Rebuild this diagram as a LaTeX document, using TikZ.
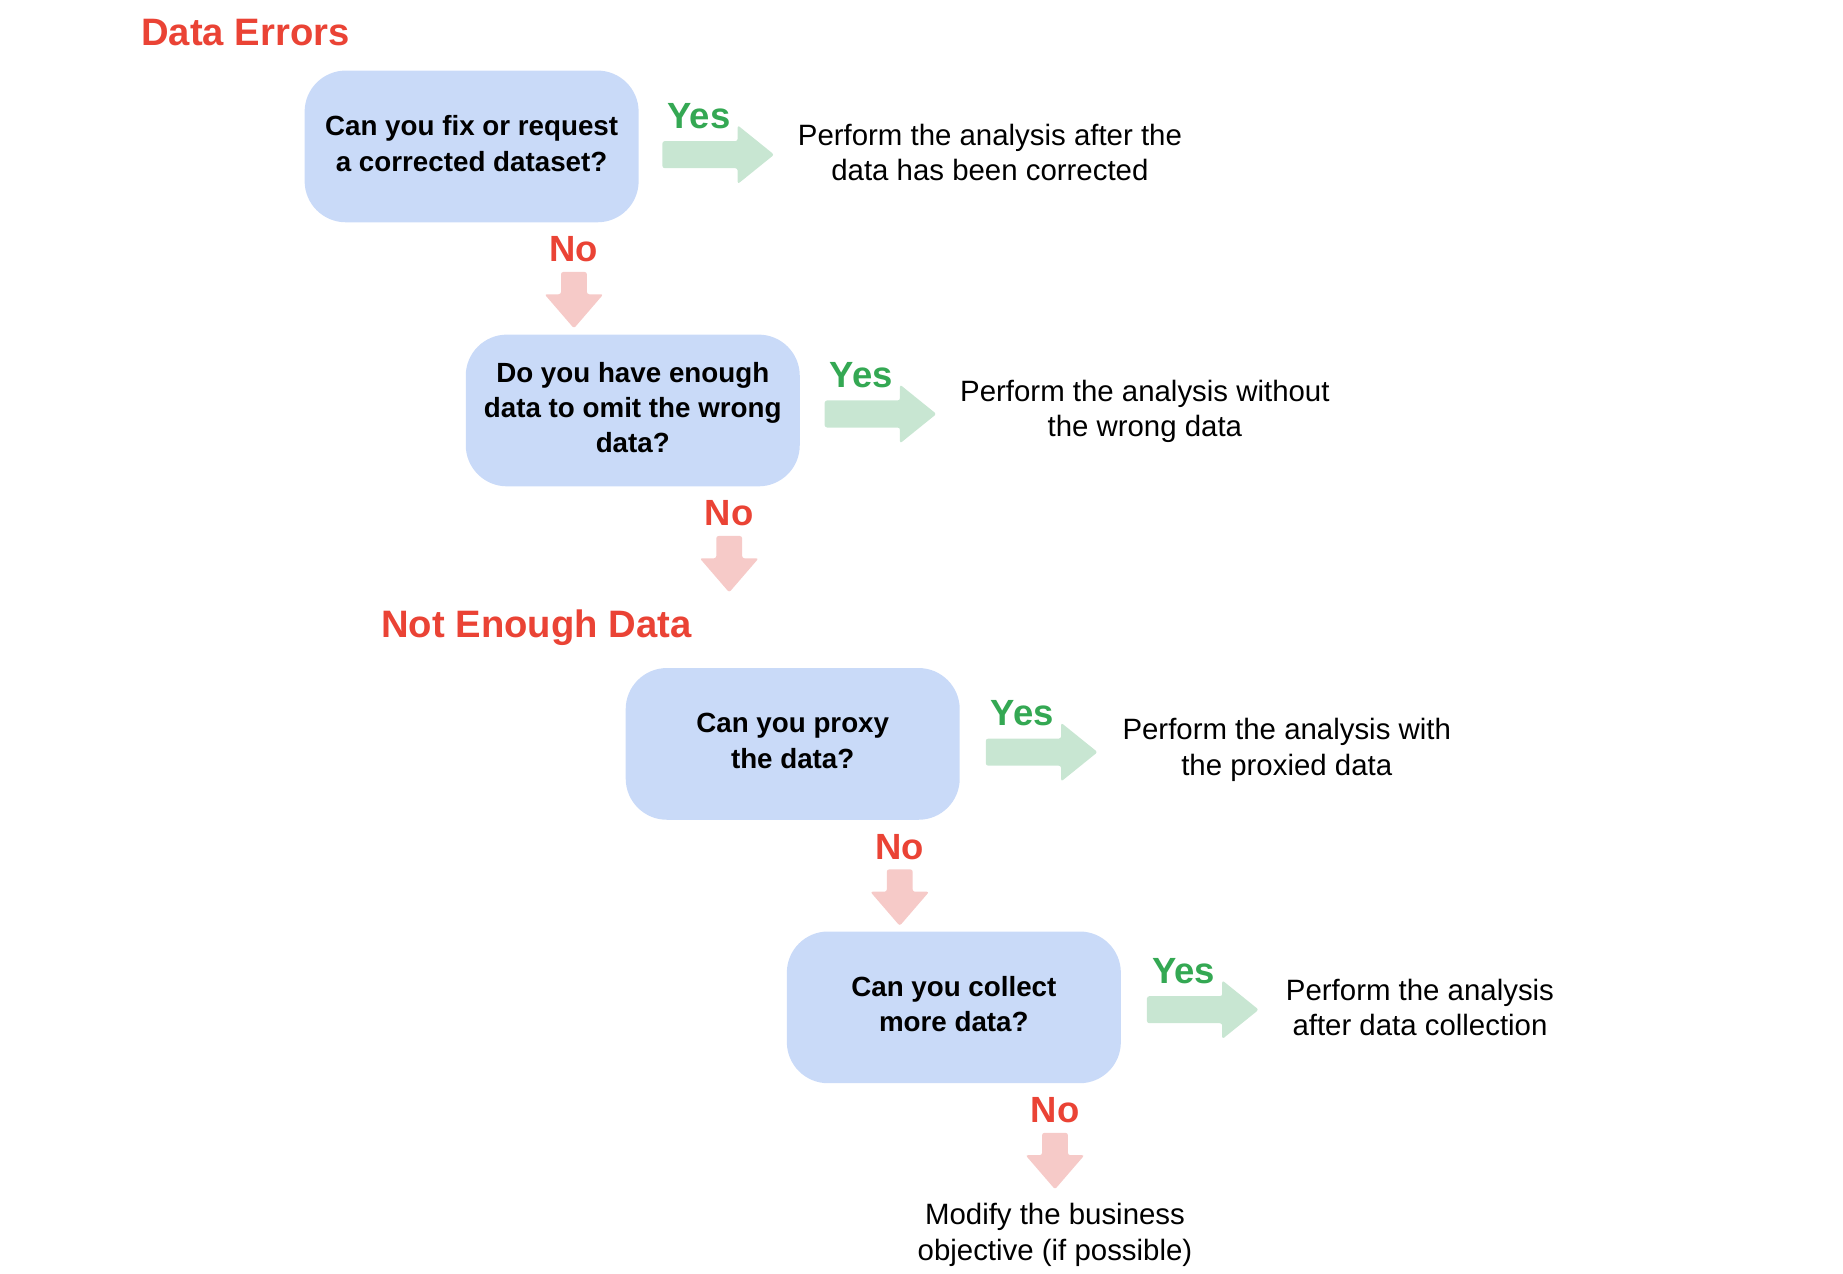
\documentclass[tikz,border=0pt]{standalone}
\usepackage{fontspec}
\setmainfont{Liberation Sans}
\definecolor{boxblue}{HTML}{C9DAF8}
\definecolor{arrgreen}{HTML}{C8E6D2}
\definecolor{arrred}{HTML}{F6CAC8}
\definecolor{txtgreen}{HTML}{34A853}
\definecolor{txtred}{HTML}{EA4335}
\begin{document}
\begin{tikzpicture}[x=1pt,y=-1pt,
  qbox/.style={rectangle, rounded corners=35pt, fill=boxblue, minimum width=284pt,
    minimum height=129pt, align=center, inner sep=0pt,
    font=\bfseries\fontsize{23.6}{30}\selectfont},
  qtext/.style={align=center, inner sep=0pt, font=\bfseries\fontsize{23.6}{30}\selectfont},
  restext/.style={anchor=west, align=center, inner sep=0pt,
    font=\fontsize{25}{30}\selectfont},
  yeslbl/.style={text=txtgreen, font=\bfseries\fontsize{31}{34}\selectfont, inner sep=0pt},
  nolbl/.style={text=txtred, font=\bfseries\fontsize{31}{34}\selectfont, inner sep=0pt},
  titlelbl/.style={anchor=west, text=txtred, font=\bfseries\fontsize{32.5}{38}\selectfont, inner sep=0pt},
  rarrow/.pic={\fill[arrgreen, rounded corners=2pt] (0,-11.5) -- (64,-11.5) -- (64,-25) -- (95,0) -- (64,25) -- (64,11.5) -- (0,11.5) -- cycle;},
  darrow/.pic={\fill[arrred, rounded corners=2pt] (-11,0) -- (-11,19) -- (-25,19) -- (0,48) -- (25,19) -- (11,19) -- (11,0) -- cycle;}
]
\useasboundingbox (0,0) rectangle (1567,1083);

% titles
\node[titlelbl] (t1) at (120,28) {Data Errors};
\node[titlelbl] (t2) at (324,534) {Not Enough Data};

% question boxes
\node[qbox] (q1) at (401,124.5) {};
\node[qbox] (q2) at (538,349) {};
\node[qbox] (q3) at (674,632.5) {};
\node[qbox] (q4) at (811,856.5) {};
\node[qtext] at ([yshift=2.5pt]q1.center) {Can you fix or request\\a corrected dataset?};
\node[qtext] at ([yshift=2.5pt]q2.center) {Do you have enough\\data to omit the wrong\\data?};
\node[qtext] at ([yshift=2.5pt]q3.center) {Can you proxy\\the data?};
\node[qtext] at ([yshift=2.5pt]q4.center) {Can you collect\\more data?};

% yes arrows
\coordinate (y1) at ([xshift=20pt,yshift=-7pt]q1.east);
\coordinate (y2) at ([xshift=21pt,yshift=-3pt]q2.east);
\coordinate (y3) at ([xshift=22pt,yshift=-7pt]q3.east);
\coordinate (y4) at ([xshift=22pt,yshift=-2pt]q4.east);
\foreach \c in {y1,y2,y3,y4}{
  \pic at (\c) {rarrow};
  \node[yeslbl] at ([xshift=31pt,yshift=33pt]\c) {Yes};
}

% results
\node[restext] (r1) at ([xshift=115pt,yshift=2pt]y1) {Perform the analysis after the\\data has been corrected};
\node[restext] (r2) at ([xshift=115pt,yshift=2pt]y2) {Perform the analysis without\\the wrong data};
\node[restext] (r3) at ([xshift=116pt,yshift=2pt]y3) {Perform the analysis with\\the proxied data};
\node[restext] (r4) at ([xshift=118pt,yshift=2pt]y4) {Perform the analysis\\after data collection};

% no arrows
\coordinate (n1) at ([xshift=87pt,yshift=-42pt]q1.south);
\coordinate (n2) at ([xshift=82pt,yshift=-42pt]q2.south);
\coordinate (n3) at ([xshift=91pt,yshift=-42pt]q3.south);
\coordinate (n4) at ([xshift=86pt,yshift=-42pt]q4.south);
\foreach \c in {n1,n2,n3,n4}{
  \pic at (\c) {darrow};
  \node[nolbl] at ([yshift=19pt]\c) {No};
}

% final
\node[align=center, inner sep=0pt, font=\fontsize{25}{30}\selectfont] (fin) at (897,1050) {Modify the business\\objective (if possible)};
\end{tikzpicture}
\end{document}
